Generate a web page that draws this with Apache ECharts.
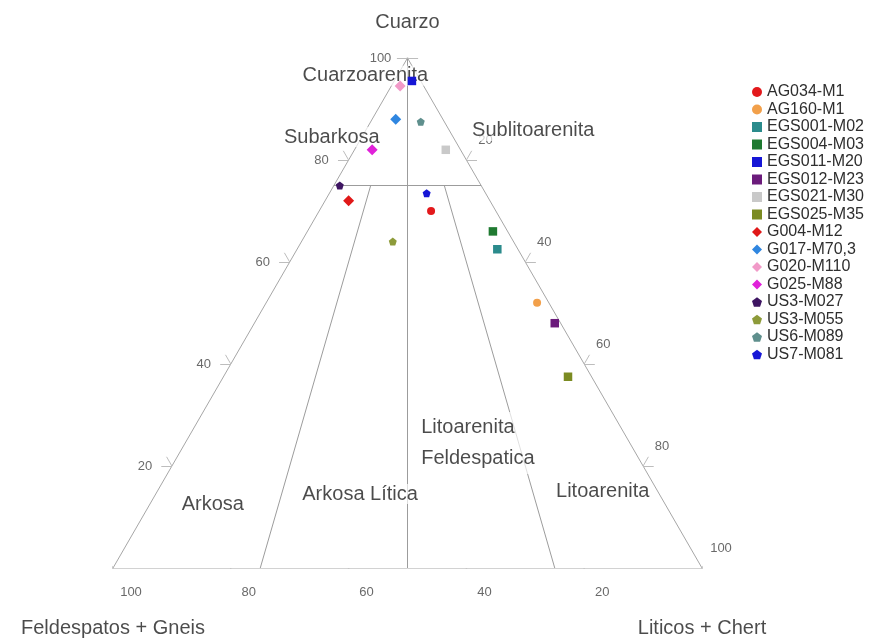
<!DOCTYPE html>
<html>
<head>
<meta charset="utf-8">
<script src="https://cdn.jsdelivr.net/npm/echarts@6/dist/echarts.min.js"></script>
<style>
  html, body { margin: 0; padding: 0; background: #ffffff; }
  #chart { width: 882px; height: 640px; }
</style>
</head>
<body>
<div id="chart"></div>
<script>
// QFL composition (%) of each sample: Cuarzo, Feldespatos + Gneis, Liticos + Chert
const samples = ['AG034-M1', 'AG160-M1', 'EGS001-M02', 'EGS004-M03', 'EGS011-M20', 'EGS012-M23',
  'EGS021-M30', 'EGS025-M35', 'G004-M12', 'G017-M70,3', 'G020-M110', 'G025-M88',
  'US3-M027', 'US3-M055', 'US6-M089', 'US7-M081'];
const quartz   = [70, 52, 62.5, 66, 95.5, 48, 82, 37.5, 72, 88, 94.5, 82, 75, 64, 87.5, 73.5];
const feldspar = [11, 2, 3.5, 2.5, 1.5, 1, 2.5, 4, 24, 8, 4, 15, 24, 20.5, 4, 10];
const lithics  = [19, 46, 34, 31.5, 3, 51, 15.5, 58.5, 4, 4, 1.5, 3, 1, 15.5, 8.5, 16.5];

// Marker style per sample
const sampleColors = ['#e3191c', '#f2a04a', '#2b8b8c', '#1f7a31', '#1616d6', '#6b1b7b',
  '#c9c9c9', '#7b8b22', '#e01818', '#2f86e0', '#f19ac8', '#e021d9',
  '#3e1562', '#8d9b3a', '#5f8f8d', '#1616d6'];
const PENTAGON = 'path://M0,-1L0.951,-0.309L0.588,0.809L-0.588,0.809L-0.951,-0.309Z';
const sampleSymbols = ['circle', 'circle', 'rect', 'rect', 'rect', 'rect', 'rect', 'rect',
  'diamond', 'diamond', 'diamond', 'diamond', PENTAGON, PENTAGON, PENTAGON, PENTAGON];
const symbolSizes = { circle: 8, rect: 8.5, diamond: 11 };

// Axis ticks (%)
const tickValues = [0, 20, 40, 60, 80, 100];

// Folk field names, anchored at a Q-F-L position
const fieldNames = ['Cuarzoarenita', 'Subarkosa', 'Sublitoarenita', 'Arkosa', 'Arkosa Lítica',
  'Litoarenita\nFeldespatica', 'Litoarenita'];
const fieldQ = [96.5, 84.5, 85.7, 12.5, 14.5, 24.5, 15.1];
const fieldF = [8.9, 20.6, -14.2, 76.8, 50.8, 35.6, 9.3];
const fieldL = [-5.4, -5.1, 28.5, 10.7, 34.7, 39.9, 75.6];

// Folk field boundaries: Q = 75, F:L = 3:1, 1:1, 1:3
const boundaries = [
  [[75, 25, 0], [75, 0, 25]],
  [[100, 0, 0], [0, 50, 50]],
  [[75, 18.75, 6.25], [0, 75, 25]],
  [[75, 6.25, 18.75], [0, 25, 75]]
];

const FONT = '"Liberation Sans", Arial, Helvetica, sans-serif';
const S3 = Math.sqrt(3) / 2;

// Ternary (Q, F, L) -> plane coordinates of an equilateral triangle with side 100
function toXY(q, f, l) {
  return [l + q / 2, q * S3];
}

const segments = [];
const innerSegments = [];
const tickSegments = [];

// Triangle outline
segments.push({ coords: [toXY(100, 0, 0), toXY(0, 100, 0)] });
segments.push({ coords: [toXY(0, 100, 0), toXY(0, 0, 100)] });
segments.push({ coords: [toXY(0, 0, 100), toXY(100, 0, 0)] });

boundaries.forEach(function (b) {
  innerSegments.push({ coords: [toXY.apply(null, b[0]), toXY.apply(null, b[1])] });
});

// Tick geometry for each side
const axisSides = [
  { point: v => toXY(v, 100 - v, 0), dirs: [[-1, 0], [-0.5, S3]], offset: [-27, 0] },
  { point: v => toXY(0, v, 100 - v), dirs: [[-0.5, -S3], [0.5, -S3]], offset: [18, 24] },
  { point: v => toXY(100 - v, 0, v), dirs: [[1, 0], [0.5, S3]], offset: [19, -20] }
];
const TICK = 1.8;
const tickLabels = [];
axisSides.forEach(function (side) {
  tickValues.forEach(function (v) {
    const p = side.point(v);
    side.dirs.forEach(function (d) {
      tickSegments.push({ coords: [p, [p[0] + d[0] * TICK, p[1] + d[1] * TICK]] });
    });
    if (v > 0) {
      tickLabels.push({ name: String(v), value: p, label: { offset: side.offset } });
    }
  });
});

const fieldData = fieldNames.map(function (n, i) {
  const item = { name: n, value: toXY(fieldQ[i], fieldF[i], fieldL[i]) };
  if (n.indexOf('\n') >= 0) {
    item.label = { align: 'left', lineHeight: 31 };
  }
  return item;
});

const titleData = [
  { name: 'Cuarzo', value: toXY(100, 0, 0), label: { offset: [0, -36] } },
  { name: 'Feldespatos + Gneis', value: toXY(0, 100, 0), label: { offset: [0, 60] } },
  { name: 'Liticos + Chert', value: toXY(0, 0, 100), label: { offset: [0, 60] } }
];

const series = [
  {
    type: 'lines', coordinateSystem: 'cartesian2d', silent: true, z: 1,
    data: segments, lineStyle: { color: '#a6a6a6', width: 1, opacity: 1 }
  },
  {
    type: 'lines', coordinateSystem: 'cartesian2d', silent: true, z: 1,
    data: innerSegments, lineStyle: { color: '#9c9c9c', width: 1, opacity: 1 }
  },
  {
    type: 'lines', coordinateSystem: 'cartesian2d', silent: true, z: 1,
    data: tickSegments, lineStyle: { color: '#bdbdbd', width: 1, opacity: 1 }
  },
  {
    type: 'scatter', silent: true, z: 2, clip: false, symbolSize: 1,
    itemStyle: { color: 'transparent' }, data: tickLabels,
    label: { show: true, position: 'inside', formatter: '{b}', fontFamily: FONT, fontSize: 13, color: '#444' }
  },
  {
    type: 'scatter', silent: true, z: 3, clip: false, symbolSize: 1,
    itemStyle: { color: 'transparent' }, data: fieldData,
    label: {
      show: true, position: 'inside', formatter: '{b}', fontFamily: FONT, fontSize: 20, color: '#1e1e1e',
      backgroundColor: 'rgba(255,255,255,0.85)', padding: [0, 1]
    }
  },
  {
    type: 'scatter', silent: true, z: 3, clip: false, symbolSize: 1,
    itemStyle: { color: 'transparent' }, data: titleData,
    label: { show: true, position: 'inside', formatter: '{b}', fontFamily: FONT, fontSize: 20, color: '#1e1e1e' }
  }
];

samples.forEach(function (name, i) {
  const sym = sampleSymbols[i];
  series.push({
    type: 'scatter', name: name, z: 5, clip: false,
    symbol: sym, symbolSize: symbolSizes[sym] || 8,
    itemStyle: { color: sampleColors[i], opacity: 1 },
    data: [toXY(quartz[i], feldspar[i], lithics[i])]
  });
});

const chart = echarts.init(document.getElementById('chart'), null, { renderer: 'canvas' });
chart.setOption({
  animation: false,
  backgroundColor: '#ffffff',
  grid: { left: 113, top: 58, width: 589, height: 510, outerBoundsMode: 'none' },
  xAxis: { type: 'value', min: 0, max: 100, show: false },
  yAxis: { type: 'value', min: 0, max: 100 * S3, show: false },
  legend: {
    orient: 'vertical', left: 747, top: 79,
    itemWidth: 10, itemHeight: 10, itemGap: 1.5,
    textStyle: { fontFamily: FONT, fontSize: 16, color: '#2e2e2e' },
    data: samples
  },
  series: series
});
</script>
</body>
</html>
